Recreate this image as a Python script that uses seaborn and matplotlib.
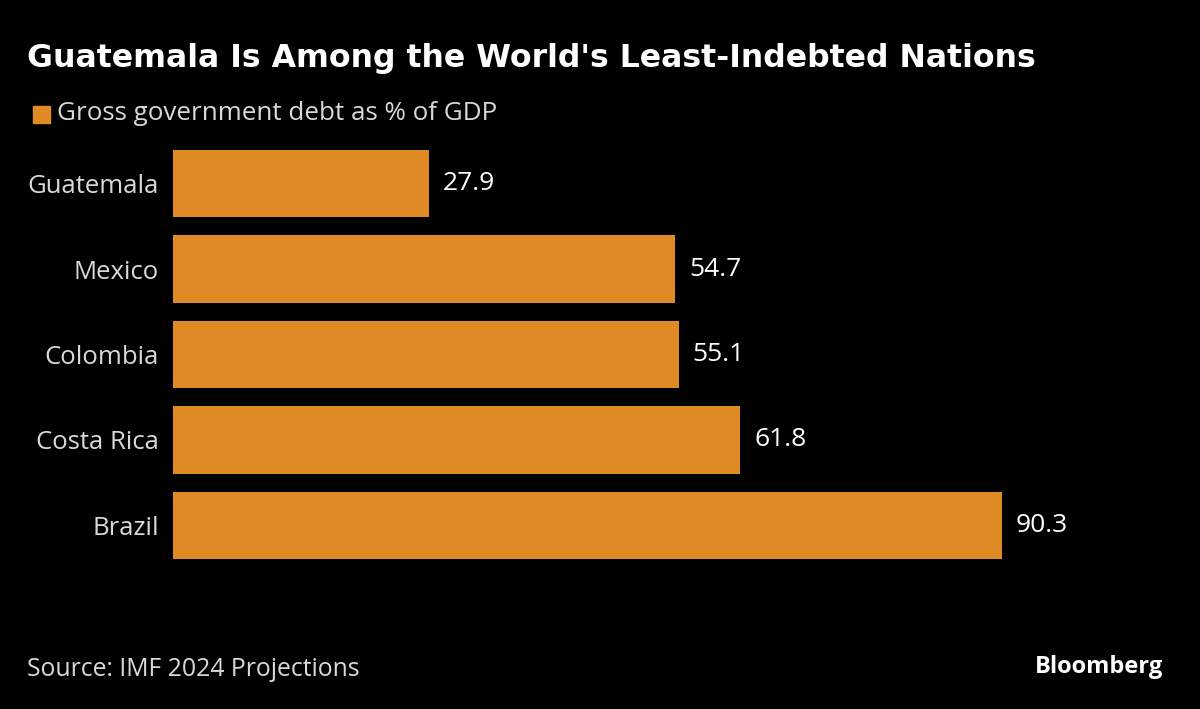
import matplotlib.pyplot as plt
import matplotlib.patches as mpatches
import seaborn as sns
import pandas as pd

# Datos del gráfico
paises = ["Guatemala", "Mexico", "Colombia", "Costa Rica", "Brazil"]
deuda = [27.9, 54.7, 55.1, 61.8, 90.3]

colorBarra = "#E08A26"
colorTexto = "#D9D9D9"

sns.set_style("dark")
plt.rcParams['font.family'] = ['Open Sans', 'DejaVu Sans']

df = pd.DataFrame({"pais": paises, "deuda": deuda})

fig = plt.figure(figsize=(12, 7.09), dpi=100, facecolor="black")
ax = fig.add_axes([173 / 1200, 1 - 568 / 709, 918 / 1200, 427 / 709])
ax.set_facecolor("black")

sns.barplot(data=df, x="deuda", y="pais", color=colorBarra, saturation=1,
            width=0.79, linewidth=0, ax=ax)

ax.set_xlim(0, 100)
ax.set_xlabel("")
ax.set_ylabel("")
ax.set_xticks([])
ax.tick_params(axis="y", length=0, pad=10, labelsize=18.5, labelcolor=colorTexto)
for s in ax.spines.values():
    s.set_visible(False)
ax.grid(False)

# Etiquetas de valor
for barra, valor in zip(ax.patches, deuda):
    ax.text(barra.get_width() + 1.5, barra.get_y() + barra.get_height() / 2,
            f"{valor:.1f}", va="center", ha="left", color="white", fontsize=19)

# Título, leyenda y fuente
fig.text(27 / 1200, 1 - 58 / 709, "Guatemala Is Among the World's Least-Indebted Nations",
         color="white", fontsize=22.7, fontweight="bold", va="center", ha="left",
         family="DejaVu Sans")
fig.patches.append(mpatches.Rectangle((33 / 1200, 1 - 123 / 709), 17 / 1200, 17 / 709,
                                      transform=fig.transFigure, color=colorBarra))
fig.text(57 / 1200, 1 - 114 / 709, "Gross government debt as % of GDP",
         color=colorTexto, fontsize=18.7, va="center", ha="left")
fig.text(27 / 1200, 1 - 669 / 709, "Source: IMF 2024 Projections",
         color=colorTexto, fontsize=17.8, va="center", ha="left")
fig.text(1163 / 1200, 1 - 667 / 709, "Bloomberg",
         color="white", fontsize=17, fontweight="bold", va="center", ha="right")

fig.savefig("out.png", dpi=100, facecolor="black")
